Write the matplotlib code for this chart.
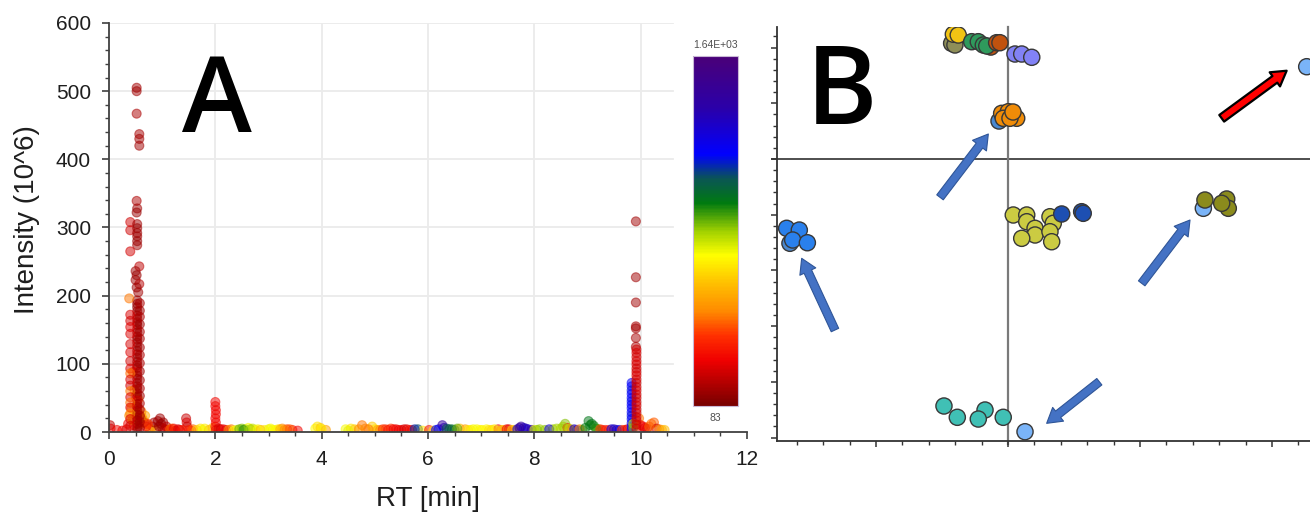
import matplotlib
matplotlib.use("Agg")
import matplotlib.pyplot as plt
import numpy as np
from matplotlib.colors import LinearSegmentedColormap, Normalize
from matplotlib.cm import ScalarMappable
from matplotlib.patches import FancyArrowPatch, ArrowStyle
from matplotlib.ticker import MultipleLocator

plt.rcParams['font.family'] = ['Liberation Sans', 'DejaVu Sans']

# ---------------- Panel A data: retention time (min), intensity (10^6), m/z ----------------
# solvent front, sparse upper features
front_top_rt = [0.52, 0.52, 0.52, 0.57, 0.57, 0.57, 0.52, 0.53, 0.52, 0.40, 0.40, 0.53, 0.53,
                0.53, 0.53, 0.53, 0.53, 0.40, 0.57, 0.50, 0.52, 0.50, 0.57, 0.52, 0.55, 0.38]
front_top_int = [505, 500, 467, 437, 430, 420, 339, 328, 322, 308, 296, 305, 299,
                 292, 287, 280, 274, 265, 243, 236, 230, 223, 217, 212, 205, 196]
front_top_mz = [160, 150, 170, 165, 160, 155, 180, 150, 140, 230, 235, 150, 145,
                150, 155, 140, 150, 240, 200, 150, 140, 150, 190, 145, 150, 480]

# solvent front, dense core
front_core_rt = [0.53, 0.53, 0.53, 0.53, 0.53, 0.53, 0.53, 0.53, 0.53, 0.53, 0.53, 0.53, 0.53,
                 0.53, 0.53, 0.53, 0.53, 0.53, 0.53, 0.53, 0.53, 0.53, 0.53, 0.53, 0.53, 0.53,
                 0.53, 0.53, 0.53, 0.53, 0.53, 0.53, 0.53, 0.53, 0.53, 0.53, 0.53, 0.53,
                 0.58, 0.58, 0.58, 0.58, 0.58, 0.58, 0.58, 0.58, 0.58, 0.58, 0.58, 0.58,
                 0.58, 0.58, 0.58, 0.58, 0.58, 0.58,
                 0.40, 0.40, 0.40, 0.40, 0.40, 0.40, 0.40, 0.40, 0.40, 0.40, 0.40, 0.40,
                 0.40, 0.40, 0.40, 0.40, 0.40, 0.40]
front_core_int = [193, 188, 183, 177, 171, 166, 161, 157, 151, 146, 140, 136, 131,
                  125, 119, 114, 109, 103, 98, 94, 88, 83, 78, 72, 67, 63,
                  57, 52, 46, 41, 37, 31, 26, 21, 17, 12, 7, 3,
                  189, 178, 169, 158, 147, 137, 124, 113, 101, 89, 76, 64,
                  53, 42, 33, 24, 15, 6,
                  172, 163, 154, 144, 129, 117, 104, 93, 86, 77, 68, 60,
                  51, 43, 36, 27, 19, 9]
front_core_mz = [140, 150, 135, 160, 145, 150, 170, 140, 155, 130, 150, 160, 145,
                 150, 140, 165, 150, 135, 150, 145, 260, 150, 140, 155, 160, 150,
                 145, 150, 300, 140, 150, 160, 145, 150, 140, 155, 150, 160,
                 170, 160, 180, 150, 175, 165, 160, 170, 180, 150, 165, 170,
                 160, 175, 180, 165, 170, 160,
                 250, 240, 260, 250, 245, 255, 240, 250, 470, 250, 240, 480,
                 250, 470, 260, 500, 250, 240]

# solvent front, low-abundance mixed features
front_low_rt = [0.45, 0.50, 0.55, 0.42, 0.55, 0.50, 0.62, 0.64, 0.58, 0.47, 0.70, 0.66, 0.60,
                0.48, 0.36, 0.44, 0.61, 0.68, 0.73, 0.38, 0.52]
front_low_int = [88, 52, 48, 35, 28, 25, 22, 18, 12, 10, 8, 14, 20,
                 62, 12, 18, 30, 24, 12, 24, 38]
front_low_mz = [470, 500, 520, 560, 700, 760, 650, 560, 720, 400, 300, 200, 160,
                520, 300, 700, 480, 560, 400, 520, 600]

# baseline features across the gradient
base_rt = [0.02, 0.03, 0.25, 0.33, 0.75, 0.82, 0.88, 0.92, 0.96, 0.98, 1.00, 1.05, 1.12,
           1.18, 1.25, 1.33, 1.45, 1.46, 1.47, 1.50, 1.58, 1.72, 1.80, 1.88, 1.95,
           2.00, 2.00, 2.01, 2.01, 2.00, 2.01, 2.00, 2.01,
           2.10, 2.20, 2.30, 2.40, 2.50, 2.56, 2.62, 2.70, 2.75, 2.85,
           3.00, 3.08, 3.18, 3.26, 3.35, 3.45, 3.55, 3.88, 3.92, 3.98, 4.08,
           4.45, 4.55, 4.62, 4.76, 4.82, 4.95, 5.00, 5.10, 5.20, 5.30, 5.40, 5.50,
           5.60, 5.70, 5.81, 5.90, 6.02, 6.10, 6.20, 6.27, 6.30, 6.40, 6.50, 6.60,
           6.70, 6.80, 6.92, 7.02, 7.10, 7.20, 7.32, 7.42, 7.52, 7.62, 7.75, 7.80,
           7.88, 7.95, 8.05, 8.20, 8.35, 8.50, 8.58, 8.62, 8.70, 8.80, 8.90, 9.02,
           9.05, 9.12, 9.20, 9.28, 9.40, 9.50, 9.60, 9.70, 9.97, 10.05, 10.12, 10.20,
           10.25, 10.30, 10.40]
base_int = [10, 5, 2, 4, 5, 8, 3, 16, 20, 12, 6, 4, 3,
            5, 2, 3, 20, 14, 8, 3, 4, 5, 5, 3, 6,
            44, 38, 32, 26, 20, 14, 8, 3,
            4, 3, 4, 3, 5, 4, 6, 5, 3, 3,
            4, 3, 4, 5, 4, 3, 2, 5, 8, 6, 3,
            4, 5, 4, 10, 5, 8, 4, 3, 4, 5, 4, 3,
            4, 3, 4, 2, 3, 2, 4, 10, 6, 4, 3, 5,
            4, 3, 4, 3, 4, 3, 4, 3, 4, 3, 8, 6,
            4, 3, 3, 3, 4, 5, 12, 6, 3, 3, 3, 16,
            10, 9, 4, 3, 3, 4, 3, 3, 20, 8, 5, 12,
            14, 5, 3]
base_mz = [200, 250, 300, 250, 450, 200, 520, 150, 150, 130, 180, 250, 350,
           480, 300, 300, 220, 250, 220, 350, 450, 700, 720, 600, 650,
           300, 300, 290, 300, 300, 300, 320, 300,
           220, 250, 480, 800, 880, 900, 750, 820, 700, 500,
           780, 760, 700, 500, 400, 350, 300, 750, 700, 650, 550,
           760, 700, 650, 480, 500, 650, 700, 480, 380, 400, 300, 320,
           260, 300, 1100, 700, 330, 700, 1300, 1450, 1400, 1000, 1050, 600,
           550, 700, 750, 720, 740, 650, 300, 700, 250, 600, 1450, 1350,
           1250, 1500, 900, 880, 860, 820, 880, 300, 450, 1300, 900, 1000,
           980, 970, 880, 300, 400, 1400, 1200, 350, 480, 300, 200, 480,
           450, 230, 600]

# further low-level baseline features
base2_rt = [0.15, 0.70, 0.78, 0.85, 0.94, 1.02, 1.08, 1.15, 1.22, 1.30, 1.38, 1.55, 1.65,
            1.76, 2.06, 2.15, 2.25, 2.35, 2.45, 2.53, 2.66, 2.80, 2.92, 3.04, 3.13, 3.22,
            3.30, 3.40, 4.00, 4.50, 4.70, 4.88, 5.05, 5.15, 5.25, 5.35, 5.45, 5.55, 5.65,
            5.75, 6.15, 6.35, 6.45, 6.55, 6.75, 6.85, 6.98, 7.15, 7.25, 7.38, 7.48, 7.58,
            7.68, 7.72, 7.84, 8.00, 8.10, 8.28, 8.42, 8.54, 8.66, 8.75, 8.85, 8.96, 9.08,
            9.16, 9.24, 9.34, 9.45, 9.55, 9.65, 9.75, 10.00, 10.08, 10.16, 10.35, 10.45]
base2_int = [3, 12, 4, 14, 8, 14, 8, 4, 5, 4, 3, 2, 3,
             3, 5, 4, 3, 2, 4, 3, 4, 4, 3, 5, 3, 4,
             3, 4, 4, 2, 4, 4, 3, 4, 3, 4, 3, 4, 3,
             4, 3, 5, 4, 5, 3, 4, 3, 3, 4, 3, 4, 3,
             4, 6, 5, 3, 4, 4, 5, 8, 5, 4, 4, 6, 12,
             5, 4, 3, 4, 3, 3, 4, 10, 6, 8, 4, 3]
base2_mz = [300, 420, 600, 160, 140, 150, 200, 450, 300, 250, 350, 400, 650,
            760, 250, 300, 500, 750, 900, 950, 850, 760, 720, 760, 740, 600,
            520, 450, 720, 780, 520, 480, 560, 400, 350, 300, 280, 250, 320,
            1150, 1200, 1100, 1050, 900, 700, 760, 740, 700, 720, 600, 300, 650,
            1300, 1500, 1400, 800, 860, 1300, 850, 860, 820, 1350, 500, 990, 1000,
            960, 400, 350, 1300, 1350, 400, 280, 300, 280, 450, 500, 620]

# late-eluting peak near 9.9 min
late_rt = [9.91, 9.91, 9.91, 9.91, 9.91, 9.91, 9.91,
           9.83, 9.83, 9.83, 9.83, 9.83, 9.83, 9.83, 9.83, 9.83, 9.83, 9.83, 9.83, 9.83, 9.83,
           9.86, 9.86,
           9.92, 9.92, 9.92, 9.92, 9.92, 9.92, 9.92, 9.92, 9.92, 9.92, 9.92,
           9.92, 9.92, 9.92, 9.92, 9.92, 9.92, 9.92, 9.92, 9.92, 9.92, 9.92]
late_int = [309, 227, 190, 155, 152, 138, 125,
            72, 67, 61, 56, 50, 45, 40, 35, 29, 24, 19, 13, 8, 3,
            12, 6,
            121, 116, 110, 104, 99, 93, 88, 83, 77, 72, 66,
            61, 55, 50, 44, 39, 33, 28, 22, 17, 11, 5]
late_mz = [150, 150, 150, 170, 160, 165, 170,
           1200, 1220, 1180, 1210, 1200, 1190, 1220, 1200, 1210, 1180, 1200, 1190, 1210, 1200,
           820, 880,
           240, 250, 230, 245, 250, 235, 240, 250, 245, 230, 240,
           250, 245, 240, 235, 250, 240, 245, 230, 250, 240, 245]

# ---------------- Panel B data: score coordinates and group ----------------
b_x = [-0.427, -0.402, -0.414, -0.377,
       -0.130, -0.275, -0.225, -0.187, -0.161,
       -0.086, -0.061,
       0.053, 0.104, 0.180,
       -0.068, -0.048, 0.002, 0.066, -0.036, 0.015, 0.038,
       0.040, 0.142, 0.142, 0.205, 0.205, 0.104, 0.318, 0.343, 0.318, 0.331,
       0.407, 0.558, 0.570,
       1.480, 1.492, 1.657, 1.669, 1.619,
       2.263,
       -1.652, -1.677, -1.581, -1.631, -1.520,
       -0.485, -0.384, -0.174, -0.225, -0.036,
       0.129]
b_y = [2.077, 2.047, 2.240, 2.226,
       2.010, 2.106, 2.106, 2.047, 2.029,
       2.088, 2.088,
       1.885, 1.885, 1.826,
       0.682, 0.820, 0.849, 0.731, 0.731, 0.731, 0.844,
       -1.005, -1.005, -1.126, -1.244, -1.364, -1.424, -1.036, -1.154, -1.305, -1.485,
       -0.987, -0.946, -0.975,
       -0.885, -0.736, -0.718, -0.885, -0.795,
       1.657,
       -1.513, -1.244, -1.275, -1.454, -1.503,
       -4.434, -4.637, -4.506, -4.668, -4.637,
       -4.896]
b_group = ['khaki', 'khaki', 'gold', 'gold',
           'rust', 'green', 'green', 'green', 'green',
           'rust', 'rust',
           'lavender', 'lavender', 'lavender',
           'steel', 'orange', 'orange', 'orange', 'orange', 'orange', 'orange',
           'lime', 'lime', 'lime', 'lime', 'lime', 'lime', 'lime', 'lime', 'lime', 'lime',
           'navy', 'navy', 'navy',
           'sky', 'olive', 'olive', 'olive', 'olive',
           'sky',
           'steel', 'azure', 'azure', 'azure', 'azure',
           'teal', 'teal', 'teal', 'teal', 'teal',
           'sky']
group_colors = {
    'khaki': '#8e8e58', 'gold': '#f2c414', 'green': '#2f9a5c', 'rust': '#c0520e',
    'lavender': '#8282f6', 'steel': '#4a88d0', 'orange': '#f08c08', 'lime': '#cbcb42',
    'navy': '#1d4fb2', 'olive': '#8b8b1c', 'sky': '#7ab4f8', 'azure': '#2a80ec',
    'teal': '#40c0b5',
}

# arrows highlighting shifts
arrow_tail_x = [-0.515, -1.311, 1.013, 0.692, 1.619]
arrow_tail_y = [-0.688, -3.070, -2.232, -3.998, 0.731]
arrow_head_x = [-0.149, -1.563, 1.379, 0.293, 2.111]
arrow_head_y = [0.449, -1.783, -1.095, -4.745, 1.585]
arrow_kind = ['blue', 'blue', 'blue', 'blue', 'red']

mz_min, mz_max = 83, 1640

# ---------------- figure ----------------
W, H = 1310, 512
fig = plt.figure(figsize=(W / 100, H / 100), dpi=100)


def px_axes(left, top, right, bottom):
    return fig.add_axes([left / W, 1 - bottom / H, (right - left) / W, (bottom - top) / H])


cmap = LinearSegmentedColormap.from_list('spectrum', [
    (0.00, '#780000'), (0.13, '#f00000'), (0.20, '#ff3000'), (0.27, '#ff8a00'),
    (0.35, '#ffc000'), (0.43, '#ffff00'), (0.50, '#9fd000'), (0.58, '#007a10'),
    (0.65, '#0a5555'), (0.72, '#0000ff'), (0.85, '#2a00aa'), (1.00, '#4a0078')])
norm = Normalize(mz_min, mz_max)

# ---- Panel A ----
axA = px_axes(109, 23, 747, 432)
axA.set_xlim(0, 12)
axA.set_ylim(0, 600)
for s in ('top', 'right'):
    axA.spines[s].set_visible(False)
for s in ('left', 'bottom'):
    axA.spines[s].set_color('#404040')
    axA.spines[s].set_linewidth(1.3)
axA.set_xticks(range(0, 13, 2))
axA.set_yticks(range(0, 601, 100))
axA.xaxis.set_minor_locator(MultipleLocator(0.5))
axA.yaxis.set_minor_locator(MultipleLocator(20))
axA.tick_params(which='major', length=5, width=1.2, color='#404040', labelsize=15,
                labelcolor='#1e1e1e', pad=8)
axA.tick_params(which='minor', length=3, width=1.0, color='#404040')

grid_kw = dict(color='#ebebeb', lw=1.3, zorder=0)
for gx in range(2, 11, 2):
    axA.plot([gx, gx], [0, 600], **grid_kw)
for gy in range(100, 601, 100):
    axA.plot([0, 10.6], [gy, gy], **grid_kw)

all_rt = base_rt + base2_rt + front_low_rt + front_core_rt + front_top_rt + late_rt
all_int = base_int + base2_int + front_low_int + front_core_int + front_top_int + late_int
all_mz = base_mz + base2_mz + front_low_mz + front_core_mz + front_top_mz + late_mz
assert len(all_rt) == len(all_int) == len(all_mz)
axA.scatter(all_rt, all_int, c=all_mz, cmap=cmap, norm=norm, s=42, alpha=0.5,
            linewidths=0.8, zorder=2)

axA.set_xlabel('RT [min]', fontsize=20, color='#1e1e1e')
axA.set_ylabel('Intensity (10^6)', fontsize=20, color='#1e1e1e')
axA.xaxis.set_label_coords(0.5, -0.132)
axA.yaxis.set_label_coords(-0.108, 0.52)

letter_font = ['Open Sans', 'DejaVu Sans']
fig.text(217 / W, 1 - 104 / H, 'A', fontsize=76, ha='center', va='center',
         family=letter_font, weight='semibold', color='black')

# colour scale
cax = px_axes(693, 56, 738, 406)
cb = fig.colorbar(ScalarMappable(norm=norm, cmap=cmap), cax=cax)
cb.set_ticks([])
cb.outline.set_edgecolor('#c9b8d6')
cb.outline.set_linewidth(0.8)
fig.text(715.5 / W, 1 - 45 / H, '1.64E+03', fontsize=7.5, ha='center', va='center',
         color='#505050')
fig.text(715.5 / W, 1 - 418 / H, '83', fontsize=7.5, ha='center', va='center',
         color='#505050')

# ---- Panel B ----
axB = px_axes(777, 27, 1310, 440.7)
axB.set_xlim(-1.75, 2.288)
axB.set_ylim(-5.057, 2.37)
for s in ('top', 'right'):
    axB.spines[s].set_visible(False)
for s in ('left', 'bottom'):
    axB.spines[s].set_color('#333333')
    axB.spines[s].set_linewidth(1.3)
axB.set_xticks([-1, 0, 1, 2])
axB.set_yticks(range(-5, 3))
axB.xaxis.set_minor_locator(MultipleLocator(0.2))
axB.yaxis.set_minor_locator(MultipleLocator(0.2))
axB.tick_params(which='major', length=4, width=1.1, color='#333333',
                labelbottom=False, labelleft=False)
axB.tick_params(which='minor', length=3, width=1.0, color='#333333')

axB.plot([-1.79, 2.288], [0, 0], color='#404040', lw=1.3, clip_on=False, zorder=1)
axB.plot([0, 0], [-5.11, 2.37], color='#7a7a7a', lw=1.6, clip_on=False, zorder=1)

axB.scatter(b_x, b_y, c=[group_colors[g] for g in b_group], s=135,
            edgecolors='#383838', linewidths=1.0, zorder=3)

for tx, ty, hx, hy, kind in zip(arrow_tail_x, arrow_tail_y, arrow_head_x, arrow_head_y,
                                arrow_kind):
    if kind == 'red':
        fc, ec, lw = '#ff0000', '#000000', 1.6
    else:
        fc, ec, lw = '#4472c4', '#2f5597', 0.8
    arr = FancyArrowPatch((tx, ty), (hx, hy),
                          arrowstyle=ArrowStyle.Simple(head_length=0.75, head_width=0.9,
                                                       tail_width=0.42),
                          mutation_scale=14, facecolor=fc, edgecolor=ec, lw=lw,
                          shrinkA=0, shrinkB=0, zorder=4)
    axB.add_patch(arr)

fig.text(842 / W, 1 - 96 / H, 'B', fontsize=78, ha='center', va='center',
         family=letter_font, weight='semibold', color='black')

fig.savefig('out.png', dpi=100)
